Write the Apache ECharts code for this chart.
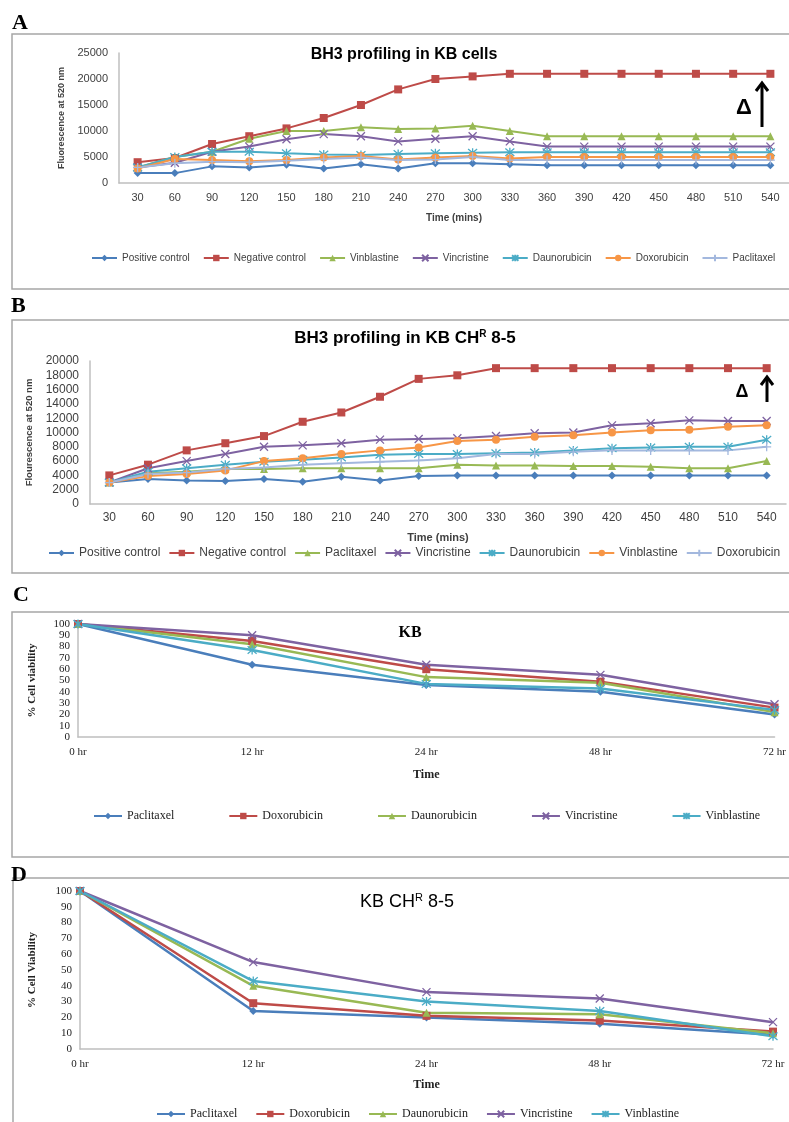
<!DOCTYPE html>
<html>
<head>
<meta charset="utf-8">
<script src="https://cdn.jsdelivr.net/npm/echarts@6/dist/echarts.min.js"></script>
<style>
body{margin:0;background:#fff;width:789px;height:1122px;position:relative;overflow:hidden}
.p{position:absolute;left:0;width:789px}
</style>
</head>
<body>
<div id="chartA" class="p" style="top:0;height:290px"></div>
<div id="chartB" class="p" style="top:290px;height:285px"></div>
<div id="chartC" class="p" style="top:575px;height:284px"></div>
<div id="chartD" class="p" style="top:859px;height:263px"></div>
<script>
// ---- data ----
var timeMins = ['30','60','90','120','150','180','210','240','270','300','330','360','390','420','450','480','510','540'];

// A: BH3 profiling in KB cells
var aPositive     = [1900,1900,3200,3000,3500,2800,3600,2800,3800,3800,3600,3400,3400,3400,3400,3400,3400,3400];
var aNegative     = [4000,4800,7500,9000,10500,12500,15000,18000,20000,20500,21000,21000,21000,21000,21000,21000,21000,21000];
var aVinblastine  = [3000,5000,6000,8500,10000,10000,10700,10400,10500,11000,10000,9000,9000,9000,9000,9000,9000,9000];
var aVincristine  = [3000,3900,6000,7000,8400,9400,9000,8000,8500,9000,8000,7000,7000,7000,7000,7000,7000,7000];
var aDaunorubicin = [3000,5000,6000,6000,5700,5500,5400,5600,5700,5800,5900,5900,5900,5900,5900,5900,5900,5900];
var aDoxorubicin  = [2800,4600,4400,4200,4400,4900,5200,4500,4900,5200,4700,5000,5000,5000,5000,5000,5000,5000];
var aPaclitaxel   = [3000,3800,4100,4000,4300,4600,4900,4400,4500,5000,4400,4400,4400,4400,4400,4400,4400,4400];

// B: BH3 profiling in KB CHR 8-5
var bPositive     = [3000,3500,3300,3200,3500,3100,3800,3300,3900,4000,4000,4000,4000,4000,4000,4000,4000,4000];
var bNegative     = [4000,5500,7500,8500,9500,11500,12800,15000,17500,18000,19000,19000,19000,19000,19000,19000,19000,19000];
var bPaclitaxel   = [3000,4300,4500,4900,4900,5000,5000,5000,5000,5500,5400,5400,5300,5300,5200,5000,5000,6000];
var bVincristine  = [3000,5000,6000,7000,8000,8200,8500,9000,9100,9200,9500,9900,10000,11000,11300,11700,11600,11600];
var bDaunorubicin = [3000,4500,5000,5500,5900,6200,6500,6900,7000,7000,7100,7200,7500,7800,7900,8000,8000,9000];
var bVinblastine  = [3000,3900,4200,4700,6000,6400,7000,7500,7900,8800,9000,9400,9600,10000,10300,10400,10800,11000];
var bDoxorubicin  = [3000,4200,4400,4900,5100,5500,5700,5900,6100,6400,7000,7000,7300,7500,7500,7500,7500,8000];

// C / D: cell viability
var hours = ['0 hr','12 hr','24 hr','48 hr','72 hr'];
var cPaclitaxel   = [100,64,46,40,20];
var cDoxorubicin  = [100,85,60,49,26];
var cDaunorubicin = [100,82,53,48,22];
var cVincristine  = [100,90,64,55,29];
var cVinblastine  = [100,77,47,43,24];

var dPaclitaxel   = [100,24,20,16,9];
var dDoxorubicin  = [100,29,21,18,11];
var dDaunorubicin = [100,40,23,22,10];
var dVincristine  = [100,55,36,32,17];
var dVinblastine  = [100,43,30,24,8];

// ---- looks (Excel-like) ----
var looks = {
  blue:   {color:'#4A7EBB', symbol:'diamond', size:8},
  red:    {color:'#BE4B48', symbol:'rect', size:8},
  green:  {color:'#98B954', symbol:'triangle', size:8},
  purple: {color:'#7E62A1', symbol:'path://M0,0L10,10M10,0L0,10', size:8, hollow:true},
  teal:   {color:'#4BACC6', symbol:'path://M0,0L10,10M10,0L0,10M5,-1L5,11', size:9, hollow:true},
  orange: {color:'#F79646', symbol:'circle', size:8},
  lav:    {color:'#A3B8DE', symbol:'path://M5,0L5,10M0,5L10,5', size:9, hollow:true}
};

function line(name, data, look, w) {
  var s = {
    name: name, type: 'line', data: data,
    symbol: look.symbol, symbolSize: look.size, showAllSymbol: true,
    lineStyle: {color: look.color, width: w || 2},
    itemStyle: {color: look.color},
    emphasis: {disabled: true}
  };
  if (look.hollow) s.itemStyle = {color: 'rgba(255,255,255,0)', borderColor: look.color, borderWidth: 1.3};
  return s;
}

function plain(v) { return String(v); }

var sans = 'Liberation Sans';
var serif = 'Liberation Serif';

function frame(x, y, w, h) {
  return {type:'rect', shape:{x:x, y:y, width:w, height:h}, style:{fill:'none', stroke:'#a6a6a6', lineWidth:1.5}, z:-1};
}
function letter(t, x, y) {
  return {type:'text', x:x, y:y, style:{text:t, font:'bold 22px ' + serif, fill:'#000', verticalAlign:'middle'}, z:5};
}
function delta(x, y, ax, top, bottom, size) {
  return [
    {type:'text', x:x, y:y, style:{text:'Δ', font:'bold ' + size + 'px ' + sans, fill:'#000', align:'center', verticalAlign:'middle'}},
    {type:'line', shape:{x1:ax, y1:bottom, x2:ax, y2:top + 2}, style:{stroke:'#000', lineWidth:3}},
    {type:'polyline', shape:{points:[[ax - 6, top + 8], [ax, top], [ax + 6, top + 8]]}, style:{stroke:'#000', lineWidth:3, fill:'none'}}
  ];
}

// ---- A ----
var chartA = echarts.init(document.getElementById('chartA'));
chartA.setOption({
  animation: false,
  graphic: [
    frame(12, 34, 800, 255),
    letter('A', 12, 23),
    {type:'text', x:404, y:55, style:{text:'BH3 profiling in KB cells', font:'bold 16px ' + sans, fill:'#000', align:'center', verticalAlign:'middle'}}
  ].concat(delta(744, 108, 762, 83, 127, 22)),
  legend: {
    left: 86, top: 248, itemGap: 13, itemWidth: 25, itemHeight: 8,
    textStyle: {fontFamily: sans, fontSize: 10, color: '#404040'},
    data: ['Positive control','Negative control','Vinblastine','Vincristine','Daunorubicin','Doxorubicin','Paclitaxel']
  },
  grid: {left: 119, right: 0, top: 53, height: 130},
  xAxis: {
    type: 'category', data: timeMins, boundaryGap: true,
    name: 'Time (mins)', nameLocation: 'middle', nameGap: 30,
    nameTextStyle: {fontFamily: sans, fontWeight: 'bold', fontSize: 10, color: '#404040'},
    axisLine: {lineStyle: {color: '#bfbfbf', width: 1.5}}, axisTick: {show: false},
    axisLabel: {interval: 0, margin: 9, fontFamily: sans, fontSize: 11, color: '#404040'}
  },
  yAxis: {
    type: 'value', min: 0, max: 25000, interval: 5000,
    name: 'Fluorescence at 520 nm', nameLocation: 'middle', nameGap: 53,
    nameTextStyle: {fontFamily: sans, fontWeight: 'bold', fontSize: 9, color: '#404040'},
    axisLine: {show: true, lineStyle: {color: '#bfbfbf', width: 1.5}}, axisTick: {show: false},
    splitLine: {show: false},
    axisLabel: {margin: 11, fontFamily: sans, fontSize: 11, color: '#404040', formatter: plain}
  },
  series: [
    line('Positive control', aPositive, looks.blue),
    line('Negative control', aNegative, looks.red),
    line('Vinblastine', aVinblastine, looks.green),
    line('Vincristine', aVincristine, looks.purple),
    line('Daunorubicin', aDaunorubicin, looks.teal),
    line('Doxorubicin', aDoxorubicin, looks.orange),
    line('Paclitaxel', aPaclitaxel, looks.lav)
  ]
});

// ---- B ----
var chartB = echarts.init(document.getElementById('chartB'));
chartB.setOption({
  animation: false,
  graphic: [
    frame(12, 30, 800, 253),
    letter('B', 11, 16),
    {type:'text', x:405, y:48, style:{
      text:'{t|BH3 profiling in KB CH}{s|R}{t| 8-5}', fill:'#000', align:'center', verticalAlign:'middle',
      rich:{t:{font:'bold 17px ' + sans, fill:'#000'}, s:{font:'bold 10px ' + sans, fill:'#000', verticalAlign:'top', padding:[0,0,8,0]}}
    }}
  ].concat(delta(742, 102, 767, 87, 112, 18)),
  legend: {
    left: 43, top: 252, itemGap: 8, itemWidth: 25, itemHeight: 8,
    textStyle: {fontFamily: sans, fontSize: 12, color: '#404040'},
    data: ['Positive control','Negative control','Paclitaxel','Vincristine','Daunorubicin','Vinblastine','Doxorubicin']
  },
  grid: {left: 90, right: 3, top: 71, height: 143},
  xAxis: {
    type: 'category', data: timeMins, boundaryGap: true,
    name: 'Time (mins)', nameLocation: 'middle', nameGap: 28,
    nameTextStyle: {fontFamily: sans, fontWeight: 'bold', fontSize: 11, color: '#404040'},
    axisLine: {lineStyle: {color: '#bfbfbf', width: 1.5}}, axisTick: {show: false},
    axisLabel: {interval: 0, margin: 8, fontFamily: sans, fontSize: 12, color: '#404040'}
  },
  yAxis: {
    type: 'value', min: 0, max: 20000, interval: 2000,
    name: 'Flourescence at 520 nm', nameLocation: 'middle', nameGap: 54,
    nameTextStyle: {fontFamily: sans, fontWeight: 'bold', fontSize: 9.5, color: '#404040'},
    axisLine: {show: true, lineStyle: {color: '#bfbfbf', width: 1.5}}, axisTick: {show: false},
    splitLine: {show: false},
    axisLabel: {margin: 11, fontFamily: sans, fontSize: 12, color: '#404040', formatter: plain}
  },
  series: [
    line('Positive control', bPositive, looks.blue),
    line('Negative control', bNegative, looks.red),
    line('Paclitaxel', bPaclitaxel, looks.green),
    line('Vincristine', bVincristine, looks.purple),
    line('Daunorubicin', bDaunorubicin, looks.teal),
    line('Vinblastine', bVinblastine, looks.orange),
    line('Doxorubicin', bDoxorubicin, looks.lav)
  ]
});

// ---- C / D ----
function viability(el, o) {
  var chart = echarts.init(document.getElementById(el));
  chart.setOption({
    animation: false,
    graphic: o.graphic,
    legend: {
      left: o.legendLeft, top: o.legendTop, itemGap: o.legendGap, itemWidth: 28, itemHeight: 8,
      textStyle: {fontFamily: serif, fontSize: 12, color: '#222'},
      data: ['Paclitaxel','Doxorubicin','Daunorubicin','Vincristine','Vinblastine']
    },
    grid: o.grid,
    xAxis: {
      type: 'category', data: hours, boundaryGap: false,
      name: 'Time', nameLocation: 'middle', nameGap: o.timeGap,
      nameTextStyle: {fontFamily: serif, fontWeight: 'bold', fontSize: 12, color: '#222'},
      axisLine: {lineStyle: {color: '#bfbfbf', width: 1.5}}, axisTick: {show: false},
      axisLabel: {margin: 10, fontFamily: serif, fontSize: 11, color: '#222'}
    },
    yAxis: {
      type: 'value', min: 0, max: 100, interval: 10,
      name: o.yName, nameLocation: 'middle', nameGap: o.yGap,
      nameTextStyle: {fontFamily: serif, fontWeight: 'bold', fontSize: 11, color: '#222'},
      axisLine: {show: true, lineStyle: {color: '#bfbfbf', width: 1.5}}, axisTick: {show: false},
      splitLine: {show: false},
      axisLabel: {margin: 8, fontFamily: serif, fontSize: 11, color: '#222'}
    },
    series: [
      line('Paclitaxel', o.data[0], looks.blue, 2.5),
      line('Doxorubicin', o.data[1], looks.red, 2.5),
      line('Daunorubicin', o.data[2], looks.green, 2.5),
      line('Vincristine', o.data[3], looks.purple, 2.5),
      line('Vinblastine', o.data[4], looks.teal, 2.5)
    ]
  });
}

viability('chartC', {
  graphic: [
    frame(12, 37, 800, 245),
    letter('C', 13, 20),
    {type:'text', x:410, y:58, style:{text:'KB', font:'bold 16px ' + serif, fill:'#000', align:'center', verticalAlign:'middle'}}
  ],
  legendLeft: 88, legendTop: 230, legendGap: 54,
  grid: {left: 78, right: 14, top: 49, height: 113},
  timeGap: 32, yName: '% Cell viability', yGap: 40,
  data: [cPaclitaxel, cDoxorubicin, cDaunorubicin, cVincristine, cVinblastine]
});

viability('chartD', {
  graphic: [
    frame(13, 19, 800, 300),
    letter('D', 11, 16),
    {type:'text', x:407, y:43, style:{
      text:'{t|KB CH}{s|R}{t| 8-5}', fill:'#000', align:'center', verticalAlign:'middle',
      rich:{t:{font:'18px ' + sans, fill:'#000'}, s:{font:'11px ' + sans, fill:'#000', verticalAlign:'top', padding:[0,0,8,0]}}
    }}
  ],
  legendLeft: 151, legendTop: 244, legendGap: 18,
  grid: {left: 80, right: 16, top: 32, height: 158},
  timeGap: 30, yName: '% Cell Viability', yGap: 42,
  data: [dPaclitaxel, dDoxorubicin, dDaunorubicin, dVincristine, dVinblastine]
});
</script>
</body>
</html>
